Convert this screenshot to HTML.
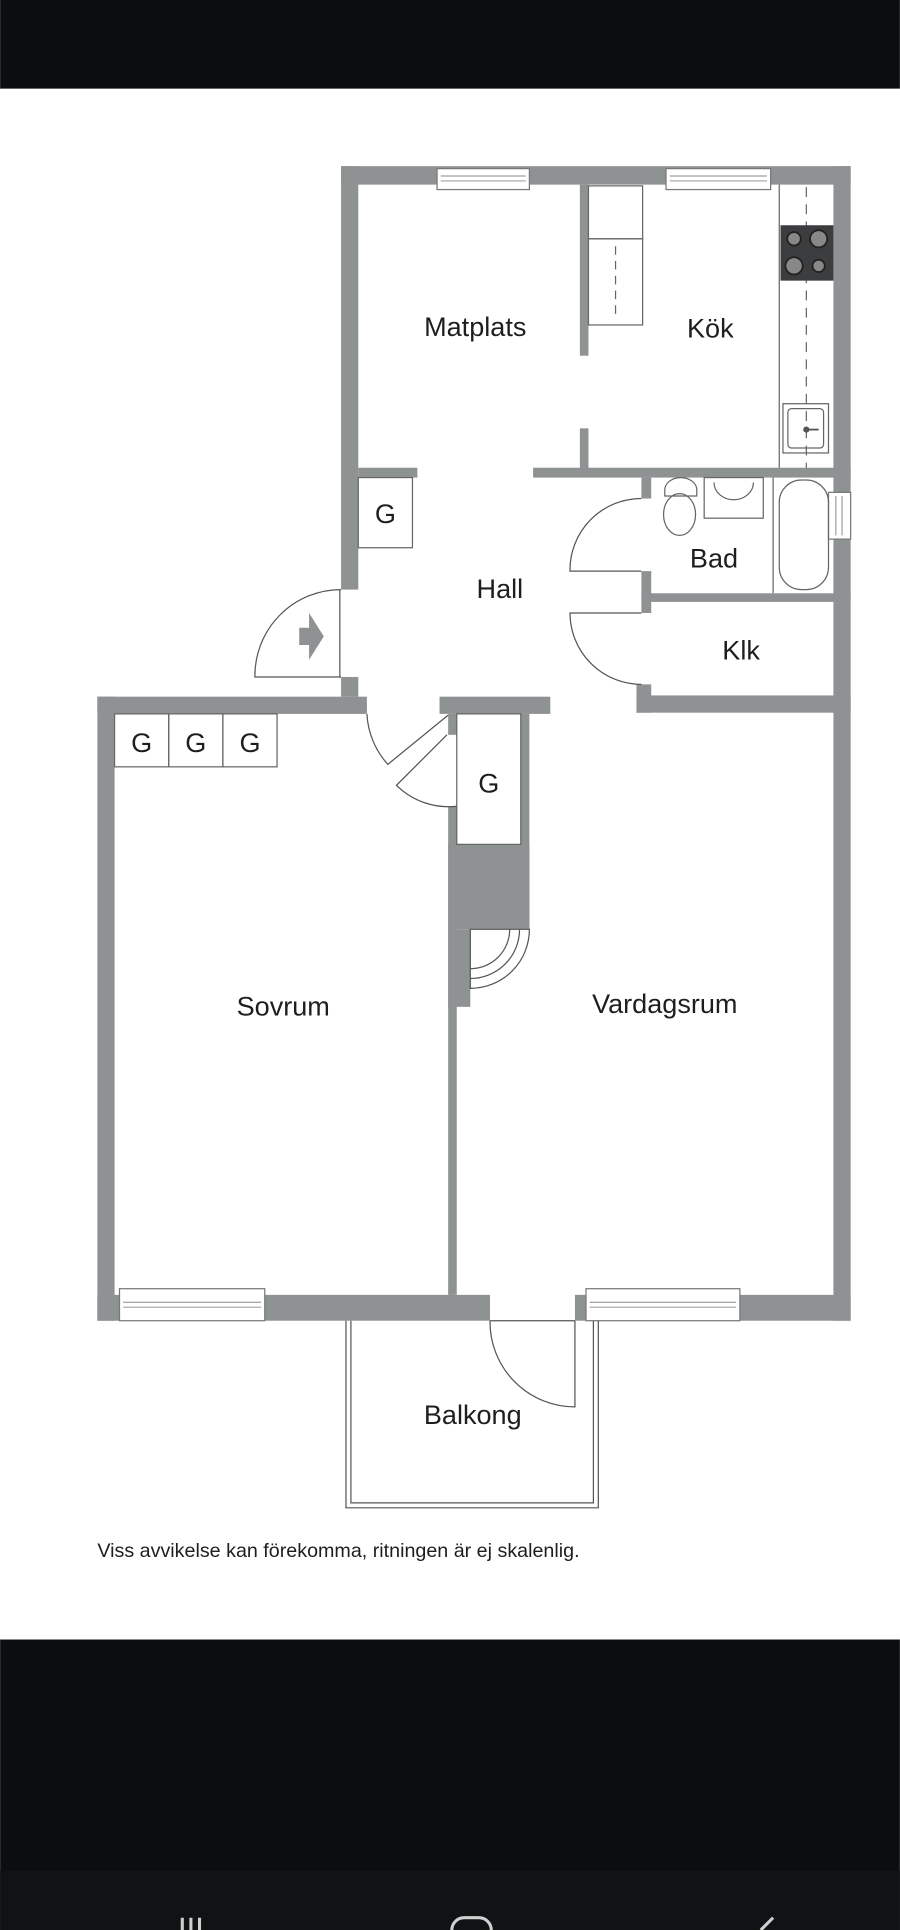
<!DOCTYPE html>
<html><head><meta charset="utf-8"><style>
html,body{margin:0;padding:0;background:#fff;}
svg{display:block;}
text{font-family:"Liberation Sans","DejaVu Sans",sans-serif;fill:#1e1e1e;}
</style></head><body>
<svg width="900" height="1930" viewBox="0 0 731 1568" xmlns="http://www.w3.org/2000/svg">
<rect x="0" y="0" width="731" height="1568" fill="#fff"/>
<rect x="0" y="0" width="731" height="72" fill="#0b0d0e"/>
<rect x="0" y="1332" width="731" height="236" fill="#0b0d0e"/>
<rect x="0" y="1520" width="731" height="48" fill="#101213"/>
<g stroke="#cfd0d0" stroke-width="2.5" fill="none">
<path d="M148 1558v12M155 1558v12M162 1558v12"/>
<rect x="367" y="1558" width="32" height="30" rx="10"/>
<path d="M628 1558l-10 10"/>
</g>

<g fill="#8f9293">
<!-- upper block -->
<rect x="277" y="135" width="414" height="15"/>
<rect x="277" y="135" width="14" height="344"/>
<rect x="677" y="135" width="14" height="938"/>
<rect x="277" y="550" width="14" height="16"/>
<!-- sovrum top wall -->
<rect x="79" y="566" width="219" height="14"/>
<rect x="79" y="566" width="14" height="507"/>
<rect x="357" y="566" width="90" height="14"/>
<!-- kitchen partition -->
<rect x="471" y="150" width="7" height="139"/>
<rect x="471" y="348" width="7" height="34"/>
<rect x="433" y="380" width="258" height="8"/>
<rect x="291" y="380" width="48" height="8"/>
<!-- bath/klk -->
<rect x="521" y="388" width="8" height="17"/>
<rect x="521" y="464" width="8" height="34"/>
<rect x="521" y="482" width="170" height="7"/>
<rect x="517" y="556" width="12" height="23"/>
<rect x="517" y="565" width="174" height="14"/>
<!-- closet & middle wall -->
<rect x="364" y="580" width="7" height="17"/>
<rect x="423" y="580" width="7" height="175"/>
<rect x="364" y="655" width="7" height="397"/>
<rect x="364" y="686" width="66" height="69"/>
<rect x="364" y="755" width="18" height="63"/>
<!-- bottom -->
<rect x="79" y="1052" width="319" height="21"/>
<rect x="467" y="1052" width="224" height="21"/>
</g>
<!-- chimney arcs -->
<g fill="none" stroke="#555" stroke-width="1">
<path d="M382 755 L430 755 A48 48 0 0 1 382 803 Z" fill="#fff"/>
<path d="M422 755 A40 40 0 0 1 382 795"/>
<path d="M414 755 A32 32 0 0 1 382 787"/>
</g>

<!-- windows -->
<g fill="#fff" stroke="#777" stroke-width="1">
<rect x="355" y="137" width="75" height="17"/>
<rect x="541" y="137" width="85" height="17"/>
<rect x="673" y="400" width="18" height="38"/>
<rect x="97" y="1047" width="118" height="26"/>
<rect x="476" y="1047" width="125" height="26"/>
</g>
<g stroke="#888" stroke-width="0.8" fill="none">
<path d="M358 143h69M358 147h69M544 143h79M544 147h79M679 403v32M684 403v32M100 1058h112M100 1062h112M479 1058h119M479 1062h119"/>
</g>

<!-- fixtures -->
<g fill="none" stroke="#666" stroke-width="1">
<rect x="478" y="151" width="44" height="43"/>
<rect x="478" y="194" width="44" height="70"/>
<path d="M500 200v60" stroke-dasharray="7 5"/>
<path d="M633 150v230"/>
<path d="M655 152v228" stroke-dasharray="8 6"/>
<rect x="636" y="328" width="37" height="40"/>
<rect x="640" y="332" width="29" height="32" rx="3"/>
<rect x="291" y="388" width="44" height="57"/>
<rect x="93" y="580" width="44" height="43"/>
<rect x="137" y="580" width="44" height="43"/>
<rect x="181" y="580" width="44" height="43"/>
<rect x="371" y="580" width="52" height="106"/>
<!-- bath -->
<path d="M628 388v94"/>
<rect x="633" y="390" width="40" height="89" rx="18"/>
<rect x="572" y="388" width="48" height="33"/>
<path d="M580 392 a16 14 0 0 0 32 0"/>
<path d="M540 398 a13 10 0 0 1 26 0 v5 h-26 z"/>
<ellipse cx="552" cy="418" rx="13" ry="17"/>
</g>
<rect x="634" y="183" width="43" height="45" fill="#3c3d3e"/>
<g fill="#888" stroke="#222" stroke-width="1.5">
<circle cx="645" cy="194" r="5.5"/><circle cx="665" cy="194" r="7"/>
<circle cx="645" cy="216" r="7"/><circle cx="665" cy="216" r="5"/>
</g>
<circle cx="655" cy="349" r="2.5" fill="#555"/>
<path d="M655 349h10" stroke="#555" stroke-width="1.5"/>

<!-- doors -->
<g fill="none" stroke="#555" stroke-width="1">
<path d="M277 479 A70 70 0 0 0 207 550 L277 550 M276 479 V550"/>
<path d="M521 464 H463 A58 58 0 0 1 521 405"/>
<path d="M521 498 H463 A58 58 0 0 0 521 556"/>
<path d="M298 580 A66 66 0 0 0 315 621 L364 581"/>
<path d="M363 597 L322 638 A60 60 0 0 0 371 655"/>
<path d="M398 1073 A69 69 0 0 0 467 1143 V1073"/>
<path d="M398 1073 H467"/>
<path d="M281 1073 V1225 H486 V1073 M285 1073 V1221 H482 V1073"/>
</g>
<path d="M243 510 h8 v-12 l12 19 l-12 19 v-12 h-8 z" fill="#8f9293"/>

<!-- labels -->
<g font-size="22" text-anchor="middle">
<text x="386" y="273">Matplats</text>
<text x="577" y="274">Kök</text>
<text x="406" y="486">Hall</text>
<text x="580" y="461">Bad</text>
<text x="602" y="536">Klk</text>
<text x="313" y="425">G</text>
<text x="115" y="611">G</text>
<text x="159" y="611">G</text>
<text x="203" y="611">G</text>
<text x="397" y="644">G</text>
<text x="230" y="825">Sovrum</text>
<text x="540" y="823">Vardagsrum</text>
<text x="384" y="1157">Balkong</text>
</g>
<text x="79" y="1265" font-size="16">Viss avvikelse kan förekomma, ritningen är ej skalenlig.</text>
</svg>
</body></html>
